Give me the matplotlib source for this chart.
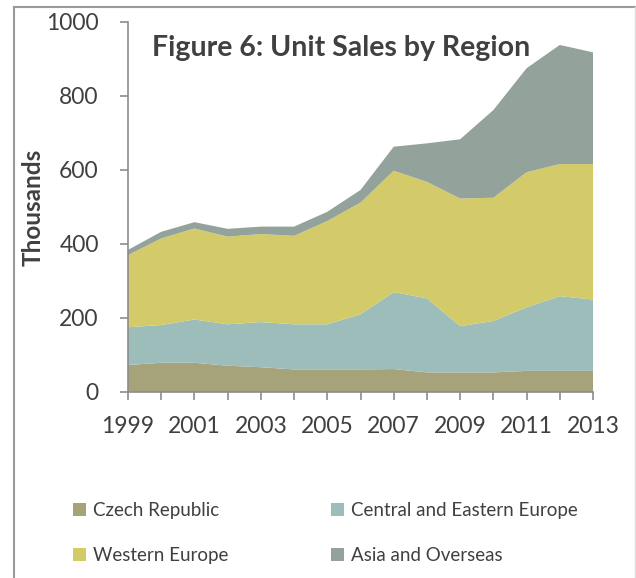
import matplotlib

matplotlib.use("Agg")
import matplotlib.pyplot as plt
from matplotlib.lines import Line2D
from matplotlib.patches import Patch

years = list(range(1999, 2014))
czech = [73, 79, 79, 71, 67, 61, 61, 61, 62, 53, 53, 53, 57, 57, 57]
central_eastern = [102, 102, 117, 112, 122, 122, 122, 149, 208, 200, 125, 139, 172, 202, 193]
western = [195, 234, 246, 237, 238, 239, 279, 302, 328, 315, 345, 333, 365, 357, 366]
asia = [14, 18, 17, 21, 20, 25, 25, 34, 65, 104, 160, 237, 281, 322, 302]

labels = ["Czech Republic", "Central and Eastern Europe", "Western Europe", "Asia and Overseas"]
colors = ["#A6A27A", "#9DBDBB", "#D3CB6A", "#93A29A"]

plt.rcParams["font.family"] = ["Lato", "DejaVu Sans"]
text_color = "#404040"
axis_color = "#8C8C8C"

fig = plt.figure(figsize=(6.36, 5.78), dpi=100)
ax = fig.add_axes([128 / 636, 1 - 392 / 578, (593 - 128) / 636, (392 - 22) / 578])

ax.stackplot(years, czech, central_eastern, western, asia, colors=colors, linewidth=0)

ax.set_xlim(1999, 2013)
ax.set_ylim(0, 1000)
ax.set_yticks(range(0, 1001, 200))
ax.set_xticks(range(1999, 2014, 2))
ax.set_xticks(range(1999, 2014), minor=True)
ax.tick_params(axis="both", which="both", direction="out", length=6, width=1.2,
               color=axis_color, labelsize=16.5, labelcolor=text_color)
ax.tick_params(axis="x", pad=11)
ax.tick_params(axis="y", pad=15)
for side in ("top", "right"):
    ax.spines[side].set_visible(False)
for side in ("left", "bottom"):
    ax.spines[side].set_color(axis_color)
    ax.spines[side].set_linewidth(1.2)

ax.set_ylabel("Thousands", fontsize=17.5, fontweight="bold", color=text_color)
ax.yaxis.set_label_coords((45 - 128) / 465, 0.5)
ax.text(0.052, 0.93, "Figure 6: Unit Sales by Region", transform=ax.transAxes,
        fontsize=20.5, fontweight="bold", color=text_color, va="center", ha="left")

handles = [Patch(facecolor=c, edgecolor="none") for c in colors]
order = [0, 2, 1, 3]
leg = fig.legend([handles[i] for i in order], [labels[i] for i in order],
                 loc="upper left", bbox_to_anchor=(56 / 636, 1 - 485 / 578), ncol=2,
                 frameon=False, fontsize=13.5, labelcolor=text_color,
                 handlelength=0.7, handleheight=0.7, handletextpad=0.35,
                 columnspacing=5.5, labelspacing=1.5)

# outer frame of the original picture
fig.add_artist(Line2D([14 / 636, 14 / 636], [0, 1 - 7 / 578], transform=fig.transFigure,
                      color="#9A9A9A", linewidth=1.5))
fig.add_artist(Line2D([14 / 636, 1], [1 - 7 / 578, 1 - 7 / 578], transform=fig.transFigure,
                      color="#9A9A9A", linewidth=1.5))
fig.add_artist(Line2D([634.5 / 636, 634.5 / 636], [0, 1 - 7 / 578], transform=fig.transFigure,
                      color="#DDDDDD", linewidth=1))

fig.savefig("out.png", dpi=100, facecolor="white")
